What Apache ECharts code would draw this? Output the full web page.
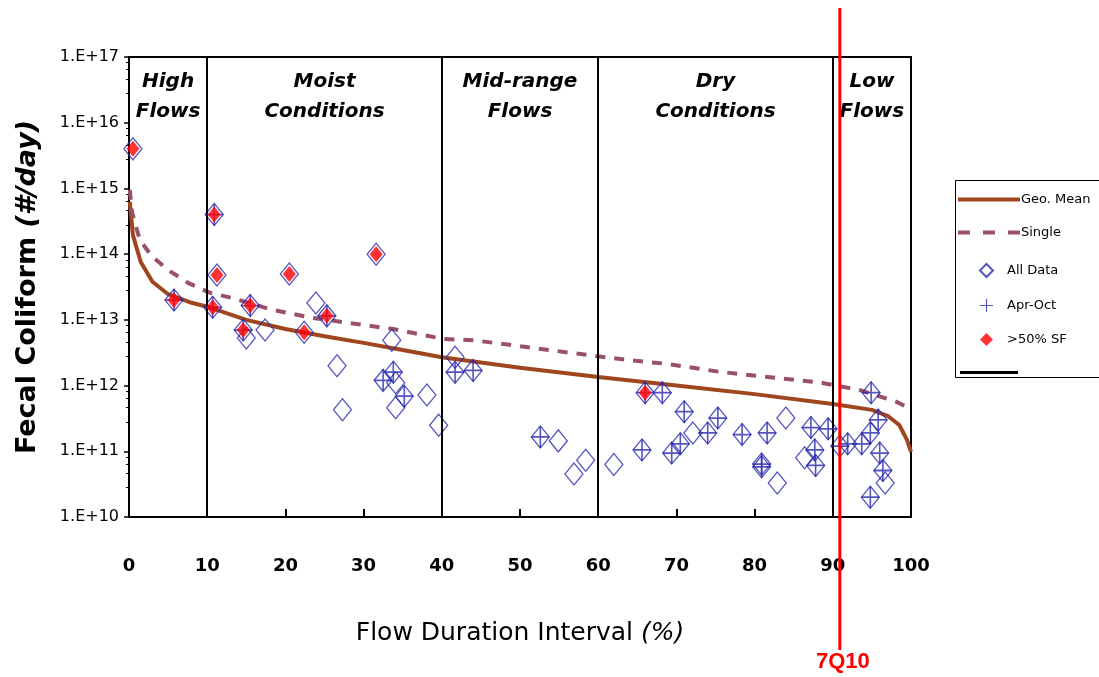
<!DOCTYPE html>
<html>
<head>
<meta charset="utf-8">
<script src="https://cdn.jsdelivr.net/npm/echarts@6/dist/echarts.min.js"></script>
<style>html,body{margin:0;padding:0;background:#fff}#c{width:1099px;height:677px}</style>
</head>
<body>
<div id="c"></div>
<script>
// ---- data ----
const xTicks = [0, 10, 20, 30, 40, 50, 60, 70, 80, 90, 100];
const yTickLabels = ['1.E+10', '1.E+11', '1.E+12', '1.E+13', '1.E+14', '1.E+15', '1.E+16', '1.E+17'];
const zoneBounds = [0, 10, 40, 60, 90, 100];
const zoneLabels = ['High\nFlows', 'Moist\nConditions', 'Mid-range\nFlows', 'Dry\nConditions', 'Low\nFlows'];
const q710 = 90.9;

const geoX = [0.1, 0.5, 1.5, 3, 5, 8, 10, 15, 20, 25, 30, 35, 40, 50, 60, 70, 80, 90, 95, 97, 98.5, 99.5, 100];
const geoLog = [14.8, 14.29, 13.88, 13.58, 13.39, 13.26, 13.2, 13.0, 12.86, 12.75, 12.65, 12.54, 12.43, 12.27, 12.13, 12.0, 11.87, 11.72, 11.63, 11.54, 11.40, 11.17, 10.99];

const singleX = [0.1, 0.4, 1.4, 3, 5, 7.6, 10.4, 13.3, 18.4, 23.5, 28.9, 33.8, 40.2, 44, 48.7, 53.8, 59, 63.7, 68.8, 75.5, 84.1, 88.7, 93.5, 98.2, 99.5, 100];
const singleLog = [14.98, 14.63, 14.21, 13.96, 13.76, 13.56, 13.41, 13.33, 13.15, 13.03, 12.94, 12.86, 12.71, 12.69, 12.62, 12.54, 12.46, 12.39, 12.33, 12.21, 12.10, 12.04, 11.93, 11.75, 11.67, 11.63];

const allData = [
  [0.5, 4.0e15], [5.75, 2.0e13], [10.9, 4.0e14], [11.25, 4.8e13], [10.7, 1.55e13],
  [15.5, 1.65e13], [14.6, 7.0e12], [15.0, 5.3e12], [17.4, 7.0e12], [22.4, 6.5e12],
  [20.5, 5.0e13], [23.9, 1.8e13], [25.3, 1.15e13], [31.6, 1.0e14], [26.6, 2.0e12],
  [27.3, 4.3e11], [33.6, 4.9e12], [32.5, 1.2e12], [33.8, 1.6e12], [34.1, 1.1e12],
  [34.1, 4.6e11], [35.2, 6.9e11], [38.1, 7.2e11], [39.6, 2.5e11], [41.7, 2.7e12],
  [41.7, 1.6e12], [44.0, 1.7e12], [52.6, 1.65e11], [54.9, 1.44e11], [56.9, 4.5e10],
  [58.4, 7.3e10], [62.0, 6.3e10], [66.0, 7.8e11], [68.2, 7.8e11], [65.6, 1.05e11],
  [69.4, 9.4e10], [70.5, 1.3e11], [71.0, 4.0e11], [72.1, 1.9e11], [74.0, 1.9e11],
  [75.3, 3.2e11], [78.4, 1.8e11], [80.9, 6.4e10], [80.9, 5.8e10], [81.6, 1.9e11],
  [82.9, 3.3e10], [84.0, 3.2e11], [86.4, 8.0e10], [87.2, 2.3e11], [87.7, 1.05e11],
  [87.8, 6.1e10], [89.4, 2.2e11], [90.9, 1.2e11], [91.9, 1.3e11], [93.7, 1.3e11],
  [94.9, 7.8e11], [94.8, 1.9e11], [95.8, 3.0e11], [96.0, 9.4e10], [96.4, 5.1e10],
  [96.7, 3.3e10], [94.8, 2.0e10]
];
const aprOct = [
  [5.75, 2.0e13], [10.9, 4.0e14], [10.7, 1.55e13], [15.5, 1.65e13], [14.6, 7.0e12],
  [25.3, 1.15e13], [32.5, 1.2e12], [33.8, 1.6e12], [35.2, 6.9e11], [41.7, 1.6e12],
  [44.0, 1.7e12], [52.6, 1.65e11], [66.0, 7.8e11], [68.2, 7.8e11], [65.6, 1.05e11],
  [69.4, 9.4e10], [70.5, 1.3e11], [71.0, 4.0e11], [74.0, 1.9e11], [75.3, 3.2e11],
  [78.4, 1.8e11], [80.9, 6.4e10], [80.9, 5.8e10], [81.6, 1.9e11], [87.2, 2.3e11],
  [87.7, 1.05e11], [87.8, 6.1e10], [89.4, 2.2e11], [90.9, 1.2e11], [91.9, 1.3e11],
  [93.7, 1.3e11], [94.9, 7.8e11], [94.8, 1.9e11], [95.8, 3.0e11], [96.0, 9.4e10],
  [96.4, 5.1e10], [94.8, 2.0e10]
];
const sf50 = [
  [0.5, 4.0e15], [5.75, 2.0e13], [10.9, 4.0e14], [11.25, 4.8e13], [10.7, 1.55e13],
  [15.5, 1.65e13], [14.6, 7.0e12], [22.4, 6.5e12], [20.5, 5.0e13], [25.3, 1.15e13],
  [31.6, 1.0e14], [66.0, 7.8e11]
];

// ---- chart ----
const FONT = 'DejaVu Sans';
const BLUE = '#2a2ab0';
const plusPath = 'path://M-1,-0.08L1,-0.08L1,0.08L-1,0.08ZM-0.09,-1L0.09,-1L0.09,1L-0.09,1Z';
const solidIcon = 'path://M0,0h62v4h-62Z';
const dashIcon = 'path://M0,0h12v4h-12ZM25,0h12v4h-12ZM50,0h12v4h-12Z';

const geoData = geoX.map((x, i) => [x, Math.pow(10, geoLog[i])]);
const singleData = singleX.map((x, i) => [x, Math.pow(10, singleLog[i])]);
const zoneAreas = zoneLabels.map((t, i) => [{ xAxis: zoneBounds[i], name: t }, { xAxis: zoneBounds[i + 1] }]);
const zoneLines = zoneBounds.slice(1, -1).map(v => ({ xAxis: v }));

const chart = echarts.init(document.getElementById('c'), null, { renderer: 'canvas' });
const legendText = { fontSize: 13, color: '#000', fontFamily: FONT };
const option = {
  backgroundColor: '#fff',
  animation: false,
  textStyle: { fontFamily: FONT },
  grid: { left: 129, right: 188, top: 57, bottom: 160, show: true, borderColor: '#000', borderWidth: 2, backgroundColor: 'transparent' },
  xAxis: {
    type: 'value', min: 0, max: 100, interval: 10,
    name: 'Flow Duration Interval {i|(%)}', nameLocation: 'middle', nameGap: 104,
    nameTextStyle: { fontSize: 25, color: '#000', fontFamily: FONT, rich: { i: { fontSize: 25, fontStyle: 'italic', color: '#000', fontFamily: FONT } } },
    axisLine: { lineStyle: { color: '#000', width: 2 } },
    axisTick: { inside: true, length: 8, lineStyle: { color: '#000', width: 2 } },
    axisLabel: { margin: 40, fontSize: 18, fontWeight: 'bold', color: '#000', fontFamily: FONT,
      formatter: v => String(xTicks[xTicks.indexOf(v)]) },
    splitLine: { show: false }
  },
  yAxis: {
    type: 'log', logBase: 10, min: 1e10, max: 1e17,
    name: 'Fecal Coliform {i|(#/day)}', nameLocation: 'middle', nameGap: 88, nameRotate: 90,
    nameTextStyle: { fontSize: 27, fontWeight: 'bold', color: '#000', fontFamily: FONT, rich: { i: { fontSize: 27, fontWeight: 'bold', fontStyle: 'italic', color: '#000', fontFamily: FONT } } },
    axisLine: { show: true, lineStyle: { color: '#000', width: 2 } },
    axisTick: { show: true, length: 5, lineStyle: { color: '#000', width: 1.5 } },
    minorTick: { show: true, splitNumber: 5, length: 3, lineStyle: { color: '#000' } },
    axisLabel: { fontSize: 16, color: '#000', fontFamily: FONT, margin: 10,
      formatter: v => yTickLabels[Math.round(Math.log10(v)) - 10] },
    splitLine: { show: false }
  },
  legend: [
    { orient: 'vertical', left: 958, top: 193, itemWidth: 62, itemHeight: 4, itemGap: 20, padding: 0,
      data: [{ name: 'Geo. Mean', icon: solidIcon }, { name: 'Single', icon: dashIcon }],
      textStyle: Object.assign({ padding: [0, 0, 0, -4] }, legendText) },
    { orient: 'vertical', left: 979, top: 263, itemWidth: 13, itemHeight: 13, itemGap: 21, padding: 0,
      data: ['All Data', 'Apr-Oct', '>50% SF'], textStyle: Object.assign({ padding: [0, 0, 0, 9] }, legendText) },
    { orient: 'vertical', left: 960, top: 366, itemWidth: 58, itemHeight: 3, padding: 0,
      data: [{ name: ' ', icon: 'path://M0,0h58v3h-58Z' }], textStyle: legendText }
  ],
  series: [
    { name: ' ', type: 'line', data: [], symbol: 'none', lineStyle: { color: '#000', width: 3 }, itemStyle: { color: '#000' },
      markLine: { silent: true, symbol: 'none', label: { show: false }, lineStyle: { color: '#000', width: 2, type: 'solid' }, data: zoneLines },
      markArea: { silent: true, itemStyle: { color: 'rgba(0,0,0,0)' },
        label: { show: true, position: 'insideTop', distance: 10, fontSize: 20, fontWeight: 'bold', fontStyle: 'italic', color: '#000', lineHeight: 30, fontFamily: FONT },
        data: zoneAreas }
    },
    { name: 'Geo. Mean', type: 'line', data: geoData, symbol: 'none', showSymbol: false, smooth: false,
      lineStyle: { color: '#a0461e', width: 4 }, itemStyle: { color: '#a0461e' }, z: 3 },
    { name: 'Single', type: 'line', data: singleData, symbol: 'none', showSymbol: false,
      lineStyle: { color: '#9a5068', width: 4, type: [10, 9] }, itemStyle: { color: '#9a5068' }, z: 3 },
    { name: 'All Data', type: 'scatter', data: allData, symbol: 'diamond', symbolSize: [18, 22],
      itemStyle: { color: 'rgba(255,255,255,0)', borderColor: BLUE, borderWidth: 1.3 }, z: 4 },
    { name: 'Apr-Oct', type: 'scatter', data: aprOct, symbol: plusPath, symbolSize: [18, 22],
      itemStyle: { color: BLUE }, z: 5 },
    { name: '>50% SF', type: 'scatter', data: sf50, symbol: 'diamond', symbolSize: [13, 16],
      itemStyle: { color: '#ff0000' }, z: 6 }
  ]
};
chart.setOption(option);

// legend frame and 7Q10 marker, positioned through the axis scales
const px = chart.convertToPixel({ gridIndex: 0 }, [q710, 1e17])[0];
chart.setOption({
  graphic: [
    { type: 'rect', left: 955, top: 180, shape: { width: 160, height: 197 }, style: { fill: 'rgba(0,0,0,0)', stroke: '#000', lineWidth: 1 }, z: -1, silent: true },
    { type: 'line', shape: { x1: px, y1: 8, x2: px, y2: 650 }, style: { stroke: '#ff0000', lineWidth: 3 }, z: 100, silent: true },
    { type: 'text', x: px + 3, y: 662, style: { text: '7Q10', fill: '#ff0000', font: 'bold 22px "Liberation Sans", Arial, sans-serif', textAlign: 'center', textVerticalAlign: 'middle' }, z: 100 }
  ]
});
</script>
</body>
</html>
